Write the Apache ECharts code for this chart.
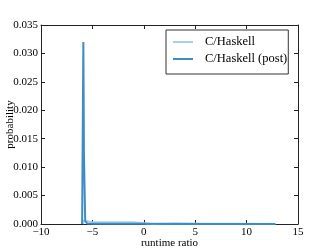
<!DOCTYPE html>
<html><head><meta charset="utf-8">
<script src="https://cdn.jsdelivr.net/npm/echarts@6/dist/echarts.min.js"></script>
<style>html,body{margin:0;padding:0;background:#fff}#c{width:332px;height:249px}</style>
</head><body><div id="c"></div>
<script>
var seriesNames = ['C/Haskell', 'C/Haskell (post)'];
var lightX = [-5.95, -5.85, -5.7, -5.0, -3.0, -1.0, -0.9, 0.9, 1.0, 3.0, 4.5, 6.0, 9.0, 12.8];
var lightY = [0.0, 0.0006, 0.0003, 0.0003, 0.0003, 0.0003, 0.0, 0.0, 0.0002, 0.00015, 0.0001, 0.00005, 0.00003, 0.0];
var darkX = [-6.0, -5.88, -5.82, -5.7, -5.5, -5.0, -3.0, 0.0, 3.0, 6.0, 9.0, 12.8];
var darkY = [0.0, 0.032, 0.012, 0.0005, 0.0001, 0.00005, 0.00003, 0.00003, 0.00002, 0.00001, 0.00001, 0.0];
var xTicks = {min: -10, max: 15, interval: 5};
var yTicks = {min: 0, max: 0.035, interval: 0.005};

function pairs(xs, ys){ return xs.map(function(x,i){return [x, ys[i]];}); }
var font = 'Liberation Serif';
var chart = echarts.init(document.getElementById('c'), null, {renderer:'canvas'});
var axisLine = {show:true, onZero:false, lineStyle:{color:'#222', width:1}};
var tick = {show:true, inside:true, length:4, lineStyle:{color:'#222'}};
chart.setOption({
  animation:false,
  grid:{left:41, right:34, top:25, bottom:25, containLabel:false, outerBoundsMode:'none'},
  legend:{
    data: seriesNames, orient:'vertical', left:166, top:30,
    borderColor:'#333', borderWidth:1, borderRadius:0, padding:[5,1,8,7],
    icon:'rect', itemWidth:20, itemHeight:2, itemGap:3,
    textStyle:{fontFamily:font, fontSize:12.5, color:'#000', lineHeight:14, padding:[0,0,0,7]}
  },
  xAxis:[{
    type:'value', min:xTicks.min, max:xTicks.max, interval:xTicks.interval,
    name:'runtime ratio', nameLocation:'middle', nameGap:14, nameMoveOverlap:false,
    nameTextStyle:{fontFamily:font, fontSize:11, color:'#000'},
    axisLine:axisLine, axisTick:tick, splitLine:{show:false},
    axisLabel:{fontFamily:font, fontSize:11, color:'#000', margin:3,
      formatter:function(v){return String(v).replace('-', '\u2212');}}
  },{
    type:'value', position:'top', min:xTicks.min, max:xTicks.max, interval:xTicks.interval,
    axisLine:axisLine, axisTick:tick, axisLabel:{show:false}, splitLine:{show:false}
  }],
  yAxis:[{
    type:'value', min:yTicks.min, max:yTicks.max, interval:yTicks.interval,
    name:'probability', nameLocation:'middle', nameGap:25, nameMoveOverlap:false,
    nameTextStyle:{fontFamily:font, fontSize:11, color:'#000'},
    axisLine:axisLine, axisTick:tick, splitLine:{show:false},
    axisLabel:{fontFamily:font, fontSize:11, color:'#000', margin:3,
      formatter:function(v){return v.toFixed(3);}}
  },{
    type:'value', position:'right', min:yTicks.min, max:yTicks.max, interval:yTicks.interval,
    axisLine:axisLine, axisTick:tick, axisLabel:{show:false}, splitLine:{show:false}
  }],
  series:[{
    name:seriesNames[0], type:'line', data:pairs(lightX, lightY), symbol:'none',
    lineStyle:{color:'#a6cfec', width:2}, itemStyle:{color:'#a6cfec'}
  },{
    name:seriesNames[1], type:'line', data:pairs(darkX, darkY), symbol:'none',
    lineStyle:{color:'#3d8cc8', width:2}, itemStyle:{color:'#3d8cc8'}
  }]
});
</script></body></html>
